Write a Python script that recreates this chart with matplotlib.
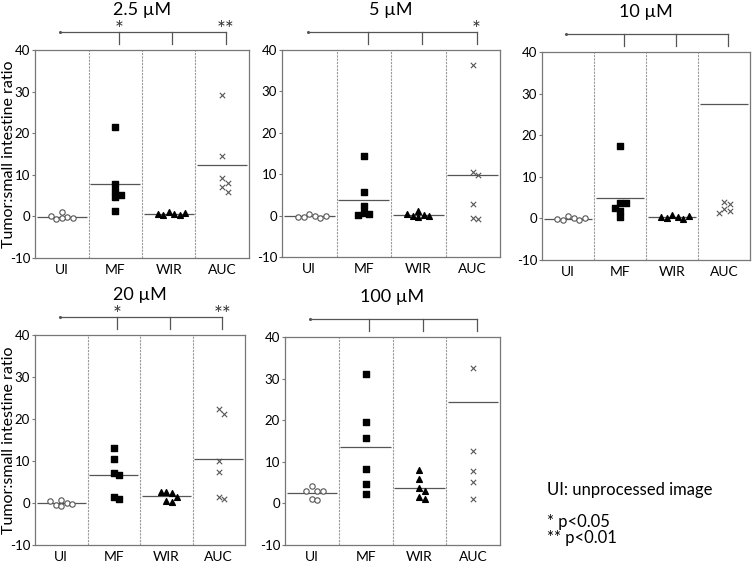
import matplotlib

matplotlib.use("Agg")
import matplotlib.pyplot as plt
import matplotlib.transforms as mtransforms
import numpy as np

plt.rcParams["font.family"] = ["Lato", "DejaVu Sans"]
plt.rcParams["axes.unicode_minus"] = False

groups = ["UI", "MF", "WIR", "AUC"]

# values, one list per group (UI, MF, WIR, AUC)
ui_2p5 = [1.0, -0.2, -0.4, -0.6, -0.4, 0.2]
mf_2p5 = [21.4, 7.9, 6.2, 5.2, 4.6, 1.4]
wir_2p5 = [1.1, 0.6, 0.4, 0.4, 0.6, 0.8]
auc_2p5 = [29.2, 14.4, 9.2, 8.0, 7.1, 5.8]

ui_5 = [0.4, -0.2, -0.3, -0.6, -0.3, 0.0]
mf_5 = [14.3, 5.6, 2.2, 0.6, 0.4, 0.2]
wir_5 = [1.1, 0.2, -0.2, -0.35, 0.0, 0.5]
auc_5 = [36.4, 10.6, 9.9, 2.7, -0.6, -0.8]

ui_10 = [0.6, 0.0, -0.4, -0.4, -0.2, 0.2]
mf_10 = [17.4, 3.8, 3.6, 2.6, 1.8, 0.3]
wir_10 = [0.7, 0.4, 0.0, -0.1, 0.4, 0.6]
auc_10 = [152.0, 3.9, 3.4, 2.3, 1.8, 1.2]  # first value is off scale

ui_20 = [0.7, -0.1, -0.4, -0.7, -0.2, 0.5]
mf_20 = [13.2, 10.5, 7.2, 6.6, 1.4, 0.9]
wir_20 = [2.7, 2.5, 2.7, 1.4, 0.5, 0.3]
auc_20 = [22.4, 21.1, 10.0, 7.5, 1.4, 1.0]

ui_100 = [4.2, 3.1, 3.0, 3.0, 1.0, 0.8]
mf_100 = [31.1, 19.6, 15.8, 8.3, 4.7, 2.2]
wir_100 = [8.0, 5.8, 3.7, 2.9, 1.5, 1.0]
auc_100 = [88.0, 32.6, 12.5, 7.7, 5.1, 1.0]  # first value is off scale

titles = ["2.5 µM", "5 µM", "10 µM", "20 µM", "100 µM"]
panels = [
    [ui_2p5, mf_2p5, wir_2p5, auc_2p5],
    [ui_5, mf_5, wir_5, auc_5],
    [ui_10, mf_10, wir_10, auc_10],
    [ui_20, mf_20, wir_20, auc_20],
    [ui_100, mf_100, wir_100, auc_100],
]
# significance vs UI for MF, WIR, AUC
stars = [
    ["*", "", "**"],
    ["", "", "*"],
    ["", "", ""],
    ["*", "", "**"],
    ["", "", ""],
]

W, H = 754, 564
boxes = [  # left, top, right, bottom in pixels
    (35, 50, 249, 258),
    (282, 50, 500, 257),
    (542, 52, 750, 260),
    (35, 335, 245, 545),
    (285, 337, 500, 545),
]

styles = [
    dict(marker="o", s=15, facecolors="white", edgecolors="#555555", linewidths=0.8),
    dict(marker="s", s=24, color="black"),
    dict(marker="^", s=17, color="black"),
    dict(marker="x", s=15, color="#555555", linewidths=0.8),
]


def swarm(ax, x0, vals, diam=5.5):
    """Beeswarm offsets in data units so markers don't overlap."""
    pts = ax.transData.transform([(x0, v) for v in vals])
    px_per_x = ax.transData.transform((1, 0))[0] - ax.transData.transform((0, 0))[0]
    placed = []
    xs = []
    for _, py in pts:
        k = 0
        while True:
            cands = [0.0] if k == 0 else [k * diam, -k * diam]
            ok = None
            for c in cands:
                if all((c - qx) ** 2 + (py - qy) ** 2 >= diam**2 for qx, qy in placed):
                    ok = c
                    break
            if ok is not None:
                break
            k += 1
        placed.append((ok, py))
        xs.append(x0 + ok / px_per_x)
    return xs


fig = plt.figure(figsize=(W / 100, H / 100), dpi=100)

for i, (data, title, box, st) in enumerate(zip(panels, titles, boxes, stars)):
    l, t, r, b = box
    ax = fig.add_axes([l / W, 1 - b / H, (r - l) / W, (b - t) / H])
    ax.set_xlim(-0.5, 3.5)
    ax.set_ylim(-10, 40)
    ax.set_yticks(range(-10, 41, 10))
    ax.set_xticks(range(4))
    ax.set_xticklabels(groups)
    ax.tick_params(axis="x", length=0, pad=4, labelsize=10)
    ax.tick_params(axis="y", length=2.5, width=0.8, color="#777777", pad=1, labelsize=9.5)
    for sp in ax.spines.values():
        sp.set_color("#777777")
        sp.set_linewidth(0.9)
    for xd in (0.5, 1.5, 2.5):
        ax.axvline(xd, color="#999999", lw=0.8, ls=(0, (2, 1)))

    for j, vals in enumerate(data):
        xs = swarm(ax, j, vals)
        ax.scatter(xs, vals, zorder=3, **styles[j])
        ax.hlines(np.mean(vals), j - 0.47, j + 0.47, color="#555555", lw=0.9, zorder=2)

    # comparison bracket above the panel
    tr = mtransforms.blended_transform_factory(ax.transData, ax.transAxes)
    ph = b - t
    yb = 1 + 18 / ph
    ytk = 1 + 6 / ph
    ax.plot([-0.03, 3.07], [yb, yb], color="#555555", lw=0.9, transform=tr, clip_on=False)
    ax.plot([-0.03], [yb], marker="o", ms=1.2, color="#555555", transform=tr, clip_on=False)
    for j in range(1, 4):
        ax.plot([j + 0.07, j + 0.07], [yb, ytk], color="#555555", lw=0.9, transform=tr, clip_on=False)
        if st[j - 1]:
            ax.text(j + 0.07, yb - 4 / ph, st[j - 1], transform=tr, ha="center",
                    va="baseline", fontsize=15, color="#333333")
    ax.text(0.5, 1 + 40 / ph, title, transform=ax.transAxes, ha="center", va="center",
            fontsize=13)
    if i in (0, 3):
        fig.text(9 / W, 1 - (t + b) / 2 / H, "Tumor:small intestine ratio", rotation=90,
                 ha="center", va="center", fontsize=11.5)

fig.text(547 / W, 1 - 490 / H, "UI: unprocessed image", fontsize=12, va="center")
fig.text(547 / W, 1 - 522 / H, "* p<0.05", fontsize=12, va="center")
fig.text(547 / W, 1 - 538 / H, "** p<0.01", fontsize=12, va="center")

fig.savefig("out.png", dpi=100)
